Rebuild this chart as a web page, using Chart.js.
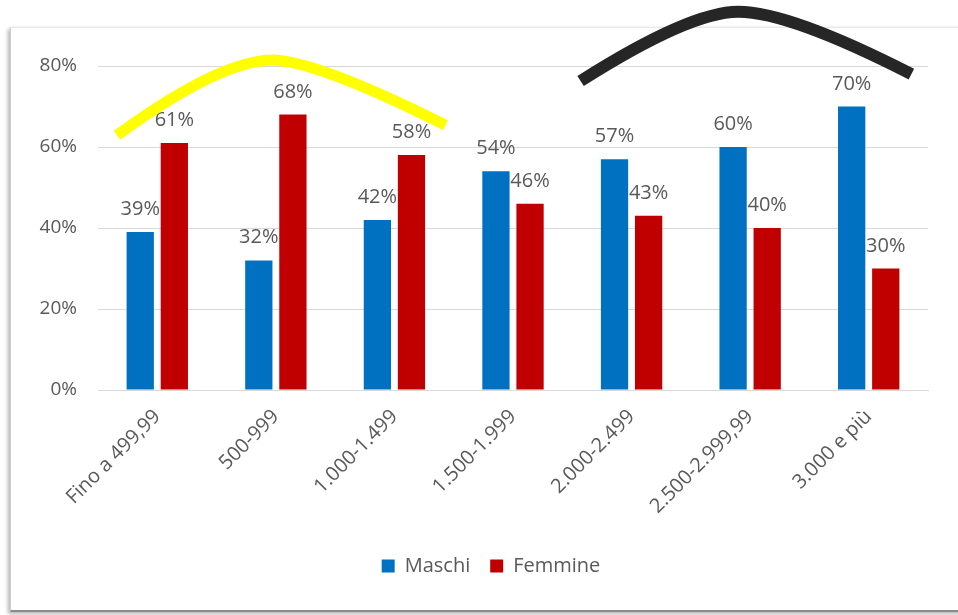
<!DOCTYPE html>
<html>
<head>
<meta charset="utf-8">
<script src="https://cdn.jsdelivr.net/npm/chart.js@4/dist/chart.umd.min.js"></script>
<style>
  html, body { margin: 0; padding: 0; background: #fff; }
  #page { position: relative; width: 958px; height: 615px; overflow: hidden; }
  #frame {
    position: absolute; left: 10px; top: 27px; width: 960px; height: 582px;
    background: #fff;
    border-left: 1px solid #cfcfcf;
    border-top: 1px solid #e6e6e6;
    border-bottom: 2px solid #8c8c8c;
    box-shadow: -2px 2px 4px rgba(0, 0, 0, 0.3);
  }
  #wrap { position: absolute; left: 0; top: 0; width: 958px; height: 615px; }
</style>
</head>
<body>
<div id="page">
  <div id="frame"></div>
  <div id="wrap"><canvas id="chart"></canvas></div>
</div>
<script>
// Data
const categories = ['Fino a 499,99', '500-999', '1.000-1.499', '1.500-1.999', '2.000-2.499', '2.500-2.999,99', '3.000 e più'];
const maschi = [39, 32, 42, 54, 57, 60, 70];
const femmine = [61, 68, 58, 46, 43, 40, 30];
const yTicks = [0, 20, 40, 60, 80];

// Hand-drawn arcs: [category position, value] for start, control, peak, control, end
const yellowArc = [[-0.34, 62.9], [0.53, 81.5], [0.98, 81.5], [1.37, 81.0], [2.43, 65.4]];
const blackArc = [[3.57, 76.3], [4.49, 93.4], [4.9, 93.4], [5.33, 93.4], [6.36, 78.0]];

const textColor = '#595959';
const fontFamily = '"Open Sans", "Noto Sans", sans-serif';

// Value labels above the bars
const barLabels = {
  id: 'barLabels',
  afterDatasetsDraw(chart) {
    const ctx = chart.ctx;
    ctx.save();
    ctx.font = '20px ' + fontFamily;
    ctx.fillStyle = textColor;
    ctx.textAlign = 'center';
    ctx.textBaseline = 'alphabetic';
    chart.data.datasets.forEach((ds, di) => {
      chart.getDatasetMeta(di).data.forEach((bar, i) => {
        ctx.fillText(ds.data[i] + '%', bar.x, bar.y - 17);
      });
    });
    ctx.restore();
  }
};

// Legend is centred on the frame, which runs past the right edge
const legendShift = {
  id: 'legendShift',
  afterUpdate(chart) {
    chart.legend.left += 27;
    chart.legend.right += 27;
  }
};

// Arcs drawn over the chart, placed through the scales
const arcs = {
  id: 'arcs',
  afterDraw(chart) {
    const x = chart.scales.x;
    const y = chart.scales.y;
    const step = x.width / categories.length;
    const pt = p => [x.left + (p[0] + 0.5) * step, y.getPixelForValue(p[1])];
    const drawArc = (points, color, width) => {
      const [p0, c1, pk, c2, p1] = points.map(pt);
      const ctx = chart.ctx;
      ctx.save();
      ctx.strokeStyle = color;
      ctx.lineWidth = width;
      ctx.lineCap = 'butt';
      ctx.beginPath();
      ctx.moveTo(p0[0], p0[1]);
      ctx.quadraticCurveTo(c1[0], c1[1], pk[0], pk[1]);
      ctx.quadraticCurveTo(c2[0], c2[1], p1[0], p1[1]);
      ctx.stroke();
      ctx.restore();
    };
    drawArc(yellowArc, '#ffff00', 11);
    drawArc(blackArc, '#262626', 12);
  }
};

const ctx = document.getElementById('chart').getContext('2d');
new Chart(ctx, {
  type: 'bar',
  data: {
    labels: categories,
    datasets: [
      { label: 'Maschi', data: maschi, backgroundColor: '#0070c0', barPercentage: 0.8, categoryPercentage: 0.575 },
      { label: 'Femmine', data: femmine, backgroundColor: '#c00000', barPercentage: 0.8, categoryPercentage: 0.575 }
    ]
  },
  options: {
    responsive: true,
    maintainAspectRatio: false,
    animation: false,
    layout: { padding: { left: 0, right: 30, top: 66, bottom: 29 } },
    plugins: {
      legend: {
        position: 'bottom',
        labels: {
          boxWidth: 13,
          boxHeight: 13,
          padding: 20,
          color: textColor,
          font: { family: fontFamily, size: 20 }
        }
      },
      tooltip: { enabled: false }
    },
    scales: {
      x: {
        grid: { display: false, drawTicks: false },
        border: { color: '#d9d9d9' },
        ticks: {
          color: textColor,
          font: { family: fontFamily, size: 20 },
          maxRotation: 45,
          minRotation: 45,
          padding: 15
        },
        afterFit(scale) { scale.height = 146; }
      },
      y: {
        min: 0,
        max: 80,
        afterBuildTicks(scale) { scale.ticks = yTicks.map(v => ({ value: v })); },
        grid: { color: '#d9d9d9', drawTicks: false },
        border: { display: false },
        ticks: {
          color: textColor,
          font: { family: fontFamily, size: 19 },
          padding: 21,
          callback: v => v + '%'
        },
        afterFit(scale) { scale.width = 98; }
      }
    }
  },
  plugins: [barLabels, legendShift, arcs]
});
</script>
</body>
</html>
